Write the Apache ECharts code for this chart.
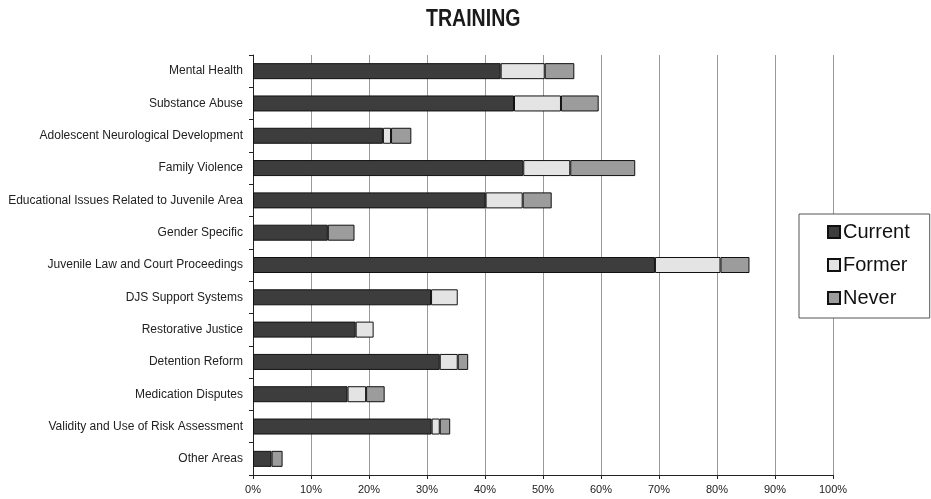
<!DOCTYPE html>
<html>
<head>
<meta charset="utf-8">
<script src="https://cdn.jsdelivr.net/npm/echarts@6/dist/echarts.min.js"></script>
<style>html,body{margin:0;padding:0;background:#fff}#c{width:931px;height:499px}</style>
</head>
<body>
<div id="c"></div>
<script>
const categories = [
  "Mental Health",
  "Substance Abuse",
  "Adolescent Neurological Development",
  "Family Violence",
  "Educational Issues Related to Juvenile Area",
  "Gender Specific",
  "Juvenile Law and Court Proceedings",
  "DJS Support Systems",
  "Restorative Justice",
  "Detention Reform",
  "Medication Disputes",
  "Validity and Use of Risk Assessment",
  "Other Areas"
];
const current = [42.7, 45.0, 22.4, 46.6, 40.1, 12.9, 69.3, 30.7, 17.7, 32.2, 16.3, 30.8, 3.2];
const former  = [7.6, 8.1, 1.4, 8.1, 6.4, 0, 11.3, 4.6, 3.1, 3.1, 3.2, 1.4, 0];
const never   = [5.1, 6.5, 3.5, 11.2, 5.0, 4.6, 5.0, 0, 0, 1.8, 3.2, 1.8, 1.9];
const xTicks = [0, 10, 20, 30, 40, 50, 60, 70, 80, 90, 100];

const toData = arr => arr.map(v => v === 0 ? '-' : v);
const mk = (name, arr, color) => ({
  name, type: 'bar', stack: 'total', barWidth: 16,
  data: toData(arr),
  itemStyle: { color, borderColor: '#111', borderWidth: 1 },
  emphasis: { disabled: true }
});

const chart = echarts.init(document.getElementById('c'), null, { renderer: 'canvas' });
chart.setOption({
  animation: false,
  backgroundColor: '#fff',
  graphic: [{
    type: 'text', left: 426, top: 8, scaleX: 0.85,
    style: { text: 'TRAINING', font: "bold 23px 'Liberation Sans', Arial, sans-serif", fill: '#1a1a1a' }
  }],
  legend: {
    orient: 'vertical', left: 799, top: 214,
    backgroundColor: '#fff', borderColor: '#555', borderWidth: 1, borderRadius: 0,
    padding: [8, 20, 10, 28], itemGap: 13,
    itemWidth: 12, itemHeight: 12, icon: 'rect',
    textStyle: { fontFamily: "'Liberation Sans', Arial, sans-serif", fontSize: 20, color: '#111', padding: [0, 0, 0, -2] },
    data: ['Current', 'Former', 'Never']
  },
  grid: { left: 253, right: 98, top: 55, bottom: 24, containLabel: false },
  xAxis: {
    type: 'value', min: xTicks[0], max: xTicks[xTicks.length - 1], interval: xTicks[1] - xTicks[0],
    axisLine: { show: true, lineStyle: { color: '#222', width: 1 } },
    axisTick: { show: true, length: 4, lineStyle: { color: '#222' } },
    axisLabel: { formatter: '{value}%', fontFamily: "'Liberation Sans', Arial, sans-serif", fontSize: 11, color: '#222', margin: 9 },
    splitLine: { show: true, lineStyle: { color: '#999', width: 1 } }
  },
  yAxis: {
    type: 'category', data: categories, inverse: true,
    axisLine: { show: true, lineStyle: { color: '#222', width: 1 } },
    axisTick: { show: true, length: 4, lineStyle: { color: '#222' } },
    axisLabel: { fontFamily: "'Liberation Sans', Arial, sans-serif", fontSize: 12, color: '#222', margin: 10 }
  },
  series: [
    mk('Current', current, '#3d3d3d'),
    mk('Former', former, '#e4e4e4'),
    mk('Never', never, '#9c9c9c')
  ]
});
</script>
</body>
</html>
